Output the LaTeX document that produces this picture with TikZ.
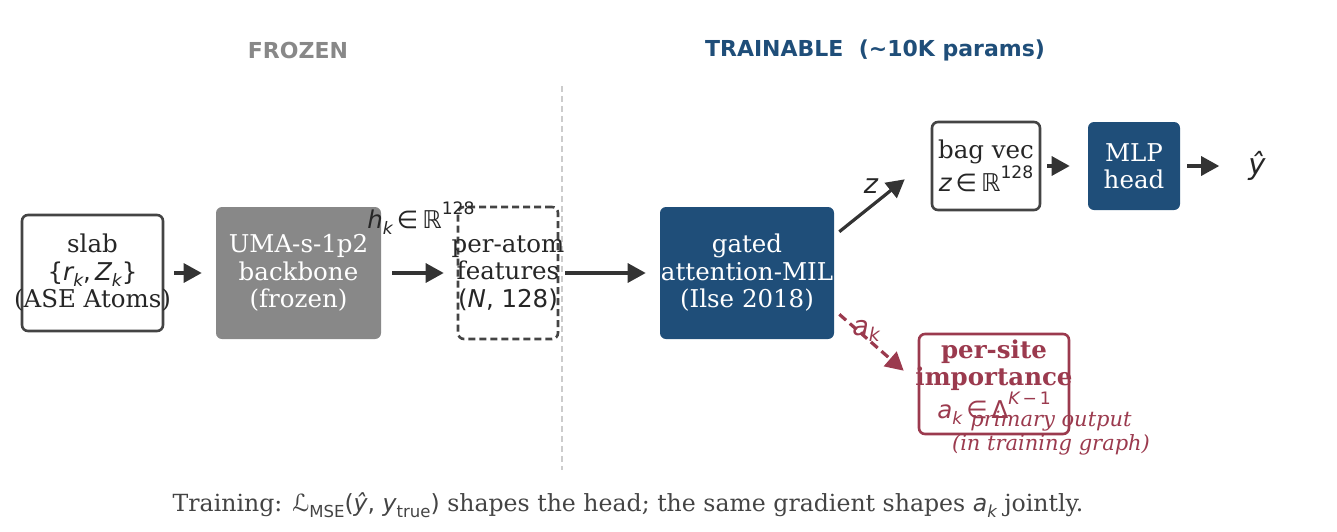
\documentclass[tikz,border=0pt]{standalone}
\usepackage{fontspec}
\usepackage{graphicx}
\setmainfont{DejaVu Serif}
\newfontfamily\msf{DejaVu Sans}
\usetikzlibrary{arrows.meta}
\definecolor{dk}{HTML}{333333}
\definecolor{bx}{HTML}{444444}
\definecolor{fblue}{HTML}{1F4E79}
\definecolor{fgray}{HTML}{888888}
\definecolor{crim}{HTML}{9B3A4E}
\definecolor{capc}{HTML}{444444}
\definecolor{vline}{HTML}{CCCCCC}
\newcommand\mi[1]{{\msf\itshape #1}}
\newcommand\mr[1]{{\msf #1}}
\newcommand\dn[1]{\raisebox{-0.25em}{\scalebox{0.7}{#1}}}
\newcommand\up[1]{\raisebox{0.55em}{\scalebox{0.7}{#1}}}
\begin{document}
\begin{tikzpicture}[x=1pt,y=-1pt,
  box/.style={rounded corners=6pt, line width=2.6pt, inner sep=0pt},
  txt/.style={align=center, inner sep=0pt, font=\fontsize{24.5}{27.5}\selectfont},
  arr/.style={line width=3.2pt, draw=dk, -{Triangle[length=18pt,width=19pt]}},
  head/.style={font=\msf\bfseries\fontsize{22}{26}\selectfont}]
\useasboundingbox (0,0) rectangle (1337,531);

\node[head, text=fgray] (hfrozen) at (298,50) {FROZEN};
\node[head, text=fblue] (htrain) at (875,50) {TRAINABLE\ \ (\textasciitilde10K params)};

\coordinate (vtop) at (562,86);
\coordinate (vbot) at (562,470);
\draw[vline, line width=1.6pt, dashed, dash pattern=on 6pt off 4pt] (vtop) -- (vbot);

% boxes
\node[box, draw=bx, fill=white, minimum width=141, minimum height=116] (slab) at (92.5,273) {};
\node[txt, text=black!85] (slabt) at (slab) {slab\\\mr{\{}\mi{r}\dn{\mi{k}}\mr{,\,}\mi{Z}\dn{\mi{k}}\mr{\}}\\(ASE Atoms)};

\node[box, fill=fgray, minimum width=165, minimum height=132] (uma) at (298.5,273) {};
\node[txt, text=white] (umat) at (uma) {UMA-s-1p2\\backbone\\(frozen)};

\node[box, draw=bx, dashed, dash pattern=on 7pt off 4pt, fill=white, minimum width=100, minimum height=132] (feat) at (508,273) {};
\node[txt, text=black!85] (featt) at (feat) {per-atom\\features\\\mr{(}\mi{N}\mr{, 128)}};

\node[box, fill=fblue, minimum width=174, minimum height=132] (mil) at (747,273) {};
\node[txt, text=white] (milt) at (mil) {gated\\attention-MIL\\(Ilse 2018)};

\node[box, draw=bx, fill=white, minimum width=108, minimum height=88] (bag) at (986,166) {};
\node[txt, text=black!85] (bagt) at (bag) {bag vec\\\mi{z}\,\mr{∈}\,\mr{ℝ}\up{\mr{128}}};

\node[box, fill=fblue, minimum width=92, minimum height=88] (mlp) at (1134,166) {};
\node[txt, text=white] (mlpt) at (mlp) {MLP\\head};

\node[txt, text=black!85, font=\fontsize{29}{32}\selectfont] (yhat) at (1257,166) {\mi{ŷ}};

\node[box, draw=crim, fill=white, minimum width=150, minimum height=100] (site) at (994,384) {};
\node[txt, text=crim] (sitet) at (994,382) {\textbf{per-site}\\\textbf{importance}\\\mi{a}\dn{\mi{k}}\,\mr{∈}\,\mr{Δ}\up{\mi{K}\,\mr{−}\,\mr{1}}};
\node[align=center, inner sep=0pt, text=crim, font=\itshape\fontsize{21}{23.5}\selectfont] (prim) at (1051,433) {primary output\\(in training graph)};

% labels
\node[txt, text=black!85] (hk) at (421,218) {\mi{h}\dn{\mi{k}}\,\mr{∈}\,\mr{ℝ}\up{\mr{128}}};
\node[txt, text=black!85, font=\fontsize{27}{30}\selectfont] (zl) at (871,186) {\mi{z}};
\node[txt, text=crim, font=\fontsize{27}{30}\selectfont] (akl) at (866,331) {\mi{a}\dn{\mi{k}}};

% arrows
\draw[arr, shorten <=10pt, shorten >=13pt] (slab.east) -- (uma.west);
\draw[arr, shorten <=10pt, shorten >=13pt] (uma.east) -- (feat.west);
\draw[arr, shorten <=6pt, shorten >=13pt] (feat.east) -- (mil.west);
\draw[arr] ([shift={(4,26)}]mil.north east) -- ([shift={(-26,-32)}]bag.south west);
\draw[arr, draw=crim, dashed, dash pattern=on 9pt off 5pt, -{Triangle[length=18pt,width=19pt]}] ([shift={(4,-26)}]mil.south east) -- ([shift={(-14,38)}]site.north west);
\draw[arr, shorten <=6pt, shorten >=17pt] (bag.east) -- (mlp.west);
\draw[arr, shorten <=6pt, shorten >=29pt] (mlp.east) -- (yhat.west);

\node[text=capc, font=\fontsize{23.6}{27}\selectfont] (caption) at (628,505) {Training: \mr{ℒ}\dn{\mr{MSE}}\mr{(}\mi{ŷ}\mr{, }\mi{y}\dn{\mr{true}}\mr{)} shapes the head; the same gradient shapes \mi{a}\dn{\mi{k}} jointly.};
\end{tikzpicture}
\end{document}
